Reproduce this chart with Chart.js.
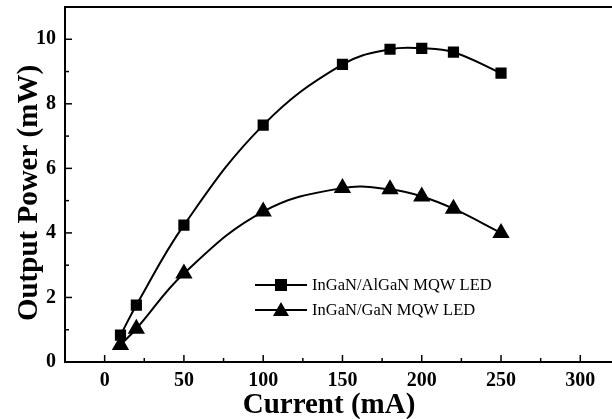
<!DOCTYPE html>
<html>
<head>
<meta charset="utf-8">
<script src="https://cdn.jsdelivr.net/npm/chart.js@4/dist/chart.umd.min.js"></script>
<style>
  html, body { margin: 0; padding: 0; background: #fff; }
  #wrap { width: 612px; height: 419px; }
</style>
</head>
<body>
<div id="wrap"><canvas id="powerChart" width="612" height="419"></canvas></div>
<script>
// values
var currentAlGaN = [10, 20, 50, 100, 150, 180, 200, 220, 250];
var powerAlGaN = [0.83, 1.76, 4.24, 7.34, 9.22, 9.69, 9.72, 9.6, 8.95];
var currentGaN = [10, 20, 50, 100, 150, 180, 200, 220, 250];
var powerGaN = [0.53, 1.03, 2.74, 4.66, 5.39, 5.35, 5.13, 4.75, 4.0];
var seriesNames = ["InGaN/AlGaN MQW LED", "InGaN/GaN MQW LED"];
var xTicks = [0, 25, 50, 75, 100, 125, 150, 175, 200, 225, 250, 275, 300];
var xLabelTicks = [0, 50, 100, 150, 200, 250, 300];
var yTicks = [0, 1, 2, 3, 4, 5, 6, 7, 8, 9, 10];
var yLabelTicks = [0, 2, 4, 6, 8, 10];
var xTitle = "Current (mA)";
var yTitle = "Output Power (mW)";

var serif = "'Liberation Serif', 'Times New Roman', serif";

function toPoints(xs, ys) {
    return xs.map(function(x, i) { return { x: x, y: ys[i] }; });
}

// inward ticks, top frame line, axis titles and the inside legend
var framePlugin = {
    id: "frame",
    afterDraw: function(chart) {
        var ctx = chart.ctx;
        var area = chart.chartArea;
        var xs = chart.scales.x;
        var ys = chart.scales.y;
        ctx.save();
        ctx.strokeStyle = "#000";
        ctx.fillStyle = "#000";
        ctx.lineWidth = 2;
        ctx.beginPath();
        ctx.moveTo(area.left, area.top);
        ctx.lineTo(area.right, area.top);
        ctx.stroke();

        ctx.lineWidth = 1.5;
        xs.ticks.forEach(function(t) {
            var px = xs.getPixelForValue(t.value);
            var len = xLabelTicks.indexOf(t.value) >= 0 ? 7 : 4;
            ctx.beginPath();
            ctx.moveTo(px, area.bottom);
            ctx.lineTo(px, area.bottom - len);
            ctx.stroke();
        });
        ys.ticks.forEach(function(t) {
            var py = ys.getPixelForValue(t.value);
            var len = yLabelTicks.indexOf(t.value) >= 0 ? 7 : 4;
            ctx.beginPath();
            ctx.moveTo(area.left, py);
            ctx.lineTo(area.left + len, py);
            ctx.stroke();
        });

        // axis titles, a little off the plot centre like the original
        ctx.font = "bold 29px " + serif;
        ctx.textAlign = "center";
        ctx.textBaseline = "alphabetic";
        ctx.fillText(xTitle, 329, 413);
        ctx.save();
        ctx.translate(37, 193);
        ctx.rotate(-Math.PI / 2);
        ctx.fillText(yTitle, 0, 0);
        ctx.restore();

        // legend
        var lx = 255, ly = 285, gap = 25;
        chart.data.datasets.forEach(function(ds, i) {
            var y = ly + i * gap;
            ctx.lineWidth = 2;
            ctx.beginPath();
            ctx.moveTo(lx, y);
            ctx.lineTo(lx + 52, y);
            ctx.stroke();
            ctx.beginPath();
            if (ds.pointStyle === "rect") {
                ctx.rect(lx + 20, y - 6, 12, 12);
            } else {
                ctx.moveTo(lx + 26, y - 8);
                ctx.lineTo(lx + 34, y + 6);
                ctx.lineTo(lx + 18, y + 6);
                ctx.closePath();
            }
            ctx.fill();
            ctx.font = "16.5px " + serif;
            ctx.textBaseline = "middle";
            ctx.textAlign = "left";
            ctx.fillText(ds.label, lx + 57, y + 1);
        });
        ctx.restore();
    }
};

new Chart("powerChart", {
    type: "line",
    data: {
        datasets: [{
            label: seriesNames[0],
            data: toPoints(currentAlGaN, powerAlGaN),
            borderColor: "#000",
            backgroundColor: "#000",
            borderWidth: 2,
            pointStyle: "rect",
            pointRadius: 6.5,
            tension: 0.4
        }, {
            label: seriesNames[1],
            data: toPoints(currentGaN, powerGaN),
            borderColor: "#000",
            backgroundColor: "#000",
            borderWidth: 2,
            pointStyle: "triangle",
            pointRadius: 8,
            tension: 0.4
        }]
    },
    plugins: [framePlugin],
    options: {
        responsive: false,
        animation: false,
        layout: { autoPadding: false, padding: { top: 7, right: 0, left: 0, bottom: 0 } },
        plugins: {
            legend: { display: false },
            tooltip: { enabled: false }
        },
        scales: {
            x: {
                type: "linear",
                min: -25,
                max: 320,
                afterBuildTicks: function(scale) {
                    scale.ticks = xTicks.map(function(v) { return { value: v }; });
                },
                afterFit: function(scale) {
                    scale.height = 57;
                    scale.paddingLeft = 0;
                    scale.paddingRight = 0;
                },
                ticks: {
                    autoSkip: false,
                    maxRotation: 0,
                    color: "#000",
                    padding: 7,
                    font: { family: serif, size: 20, weight: "bold" },
                    callback: function(v) { return xLabelTicks.indexOf(v) >= 0 ? v : ""; }
                },
                grid: { display: false, drawTicks: false },
                border: { display: true, color: "#000", width: 2 }
            },
            y: {
                min: 0,
                max: 11,
                afterBuildTicks: function(scale) {
                    scale.ticks = yTicks.map(function(v) { return { value: v }; });
                },
                afterFit: function(scale) {
                    scale.width = 65;
                    scale.paddingTop = 0;
                    scale.paddingBottom = 0;
                },
                ticks: {
                    autoSkip: false,
                    color: "#000",
                    padding: 9,
                    font: { family: serif, size: 20, weight: "bold" },
                    callback: function(v) { return yLabelTicks.indexOf(v) >= 0 ? v : ""; }
                },
                grid: { display: false, drawTicks: false },
                border: { display: true, color: "#000", width: 2 }
            }
        }
    }
});
</script>
</body>
</html>
